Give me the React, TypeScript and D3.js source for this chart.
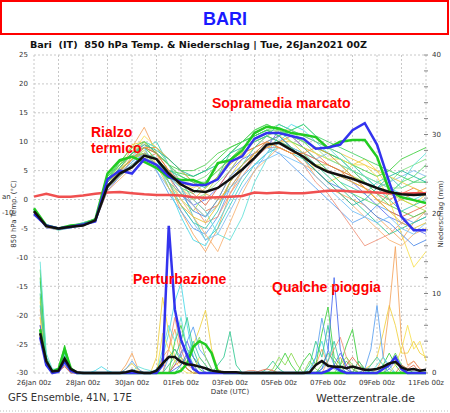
import React from 'react';
import * as d3 from 'd3';

// ---------- DATA ----------
const xTickLabels = ['26Jan 00z','28Jan 00z','30Jan 00z','01Feb 00z','03Feb 00z','05Feb 00z','07Feb 00z','09Feb 00z','11Feb 00z'];
const tempTicks = [25,20,15,10,5,0,-5,-10,-15,-20,-25,-30];
const precipLabels = [0,10,20,30,40];
const precipMinor = [0,2,4,6,8,10,12,14,16,18,20,22,24,26,28,30,32,34,36,38,40];

// temperature: every 12h from 26Jan 00z (0h) to 11Feb 00z (384h)
const tempHours = d3.range(0, 385, 12);
// precipitation: every 6h from 06h to 384h
const precipHours = d3.range(6, 385, 6);

const tMean = [-2,-4.6,-5,-4.7,-4.5,-3.6,2.3,4.5,5.6,7.6,7,4.5,2.6,1.5,1.3,2,3.5,5.2,7.2,9.5,9.8,8.6,7.4,5.8,4.8,4.2,3.6,2.8,2.0,1.3,0.9,0.8,0.9];
const tOper = [-2.5,-4.5,-5,-4.7,-4.3,-3.8,3.5,5,4.5,7,6,4,3,2.5,2.5,3.5,6.5,7.5,10.5,11.5,11.5,11,10.5,8.8,9,9.5,12,13.2,9.5,3,-3,-5.3,-5.3];
const tCtrl = [-1.5,-4.5,-5,-4.5,-4.3,-3.5,4.5,6.8,7.4,6.5,5.5,3.8,3.4,3.4,2.5,6.3,6.8,8.5,11.5,12.6,12.3,11.5,11.2,10.8,8.9,10,10.3,10.3,7.4,1.6,0.4,-0.1,-0.6];
const tClim = [0.5,1.0,0.5,0.5,0.7,1.0,1.2,1.3,1.1,0.9,0.8,0.8,0.7,0.4,0.3,0.4,0.5,0.6,1.2,1.1,1.2,1.1,1.1,1.3,1.5,1.5,1.4,1.3,1.2,1.1,1.0,1.1,1.1];

const t01 = [-2.2,-4.8,-5.2,-4.6,-4.4,-3.8,2,5,9,12.5,8,3,-2,-6,-9,-5,1,5,8,10,11,9,7,4,2,1,0,-1,-3,-5,-7,-4,-2];
const t02 = [-2,-4.4,-5,-4.8,-4,-3.4,3,6,9.5,10,6,4,1,-1,-3,0,4,7,9,11,10,10,8,5,3,4,6,7,5,2,0,-1,1];
const t03 = [-1.8,-4.6,-5.1,-4.5,-4.2,-3.6,4,6.5,7.5,8,7,5,4.5,4,5,7,9,10,12,13,12,11,10,9,8,7,6,5,4,5,7,8,9];
const t04 = [-2.3,-4.7,-5.3,-4.9,-4.4,-3.7,2.5,4.5,6.5,9,10,6,2,-3,-7,-5,-1,3,6,8,9,8,7,6,5,3,2,1,3,4,2,3,4];
const t05 = [-2,-4.5,-4.9,-4.6,-4.1,-3.5,3,5,7,9,5,1,-2,-5,-6,-3,2,5,7,9,8,6,4,2,0,-2,-4,-3,-1,-2,-3,-4,-3];
const t06 = [-2.1,-4.6,-5,-4.7,-4.3,-3.6,2,4,6,7,8,6,3,0,-2,-1,3,6,8,9,10,11,9,8,6,5,3,2,1,0,1,2,1];
const t07 = [-2,-4.3,-4.9,-4.5,-4,-3.3,3.5,6,8,10,9,7,5,3,4,6,8,10,11,12,13,12,10,8,7,6,4,3,2,3,5,6,7];
const t08 = [-2.2,-4.5,-5,-4.8,-4.3,-3.4,2.5,5,7,8.5,6,3,0,-2,1,4,7,9,10,11,10,9,7,6,6,5,4,3,2,1,0,-1,-2];
const t09 = [-1.7,-4.4,-5.1,-4.6,-4,-3.5,3,5.5,8,9,7,2,-3,-7,-8,-4,0,4,6,8,11,13,12,10,8,6,5,4,3,2,1,0,1];
const t10 = [-2.4,-4.9,-5.2,-4.9,-4.5,-3.8,1.5,4,6,8,7,4,1,-1,0,2,5,7,8,9,12,11,9,7,5,4,3,1,-1,-3,-4,-5,-6];
const t11 = [-2,-4.6,-5,-4.6,-4.2,-3.5,2,4.5,7.5,9.5,8,5,2,-1,-4,-3,1,4,7,9,9,8,6,3,1,-2,-5,-8,-7,-6,-4,-3,-2];
const t12 = [-2.1,-4.7,-5.2,-4.7,-4.3,-3.6,2.5,5,8,11,9,6,3,2,3,5,7,8,9,10,11,10,9,8,7,7,6,6,4,0,-6,-11.7,-9];
const t13 = [-1.9,-4.5,-5,-4.7,-4.2,-3.4,3,5,7,8,6,5,4,3,2,4,8,10,11,12,11,9,8,6,4,2,0,-2,-4,-6,-5,-4,-3];
const t14 = [-2.2,-4.6,-5.1,-4.8,-4.2,-3.5,2,4,6,7,5,2,-1,-4,-7,-6,-2,2,5,8,10,9,8,7,8,7,5,3,2,3,4,5,4];
const t15 = [-2,-4.4,-5,-4.6,-4.1,-3.3,4,6,8,9,8,6,5,5,6,8,9,10,11,12,12,11,10,9,8,7,5,3,1,-1,-2,-3,-2];
const t16 = [-2.3,-4.8,-5.2,-4.8,-4.4,-3.7,1.5,3.5,5.5,8,7,4,0,-3,-6,-9,-4,1,5,7,9,8,6,5,3,1,-1,-3,-5,-7,-8,-6,-5];
const t17 = [-1.8,-4.5,-5,-4.6,-4.1,-3.5,2.5,5,7,10,9,6,3,0,-2,-6,-7,-3,3,7,10,12,13,11,9,7,5,4,2,1,3,6,8];
const t18 = [-2,-4.6,-5.1,-4.7,-4.3,-3.6,2,4.5,6,8,6,3,1,-2,-3,0,4,6,8,10,11,9,7,5,3,2,1,-1,-3,-4,-6,-8,-7];
const t19 = [-2.1,-4.7,-5,-4.7,-4.2,-3.5,3,5.5,8,10,8,5,2,0,2,4,6,8,10,11,12,12,11,10,9,8,7,6,5,4,3,2,1];
const t20 = [-2,-4.5,-5.1,-4.6,-4.2,-3.4,3.5,6,8,9,7,4,2,1,3,6,8,10,12,13,12,10,9,7,5,3,1,0,-1,1,3,4,6];
const t21 = [-2.2,-4.6,-5,-4.8,-4.3,-3.6,2,4,7,9,8,5,3,1,-1,2,5,8,9,10,9,8,8,7,6,5,4,2,0,-2,-3,-2,-1];
const t22 = [-1.9,-4.5,-5,-4.6,-4.2,-3.5,2.5,5,7,8,7,3,-1,-4,-5,-2,3,6,9,11,13,12,11,10,9,8,6,4,2,0,-2,-1,0];
const t23 = [-2,-4.5,-5.2,-4.8,-4.3,-3.6,2,4,6,7.5,6,3,1,0,1,3,5,8,10,11,12,11,10,9,7,6,5,4,3,2,2,3,4];
const t24 = [-2.2,-4.7,-5,-4.6,-4.2,-3.5,3,5,7,9,9,7,5,3,1,0,2,5,8,10,9,8,8,9,8,6,4,2,0,-1,0,1,2];
const t25 = [-1.9,-4.5,-5,-4.7,-4.1,-3.4,2.5,4.5,6.5,8,6,4,2,-1,-3,-1,2,4,6,7,8,7,6,4,2,0,-2,-3,-4,-3,-5,-6,-4];
const t26 = [-2.1,-4.6,-5.1,-4.6,-4.2,-3.5,3.5,6.5,9,10,8,6,4,3,3,5,7,9,11,12,11,12,13,11,10,9,8,7,6,5,4,3,3];
const t27 = [-2,-4.5,-5,-4.7,-4.3,-3.6,2.5,5,7,8,6,2,-1,-3,-4,-1,3,6,8,9,10,9,7,6,5,4,3,2,0,-2,-4,-5,-4];
const t28 = [-2.2,-4.6,-5.1,-4.7,-4.2,-3.5,3,5.5,8,9.5,8.5,7,5,4,5,6,8,9,10,11,10,9,7,5,3,1,-1,0,2,4,5,4,3];

const tempMembers = [t01,t02,t03,t04,t05,t06,t07,t08,t09,t10,t11,t12,t13,t14,t15,t16,t17,t18,t19,t20,t21,t22,t23,t24,t25,t26,t27,t28];
const tempColors = ['#f5a35c','#f0d040','#3ccf3c','#40d0c0','#5aa0f0','#f07850','#7de07d','#b8d84a','#48d8e8','#6070f0','#f09078','#f8e050','#30c890','#80b8f0','#50d050','#f8b070','#60e0d8','#4a88e8','#f0c840','#58d868','#e86848','#38c8b0','#90e090','#f0a040','#70c0f8','#40d060','#e8c030','#20b8a0'];

const pMean = [5.0,1.5,0.2,0.3,1.8,0.5,0.1,0, 0,0,0,0,0,0,0.1,0.3, 0.1,0,0,0.3,1.2,2.0,2.0,1.4, 1.1,1.0,0.8,0.6,0.3,0.2,0.1,0.1, 0.1,0,0,0,0,0,0,0, 0,0,0,0,0.1,1.0,1.5,0.9, 0.8,0.8,0.6,0.8,0.6,0.4,0.4,0.5, 0.8,1.2,1.4,0.7,0.4,0.5,0.3,0.4];
const pOper = [4.5,1.0,0,0.2,1.5,0.3,0,0, 0,0,0,0,0,0,0,0, 0,0,0,0,1.0,18.5,8.0,4.2, 2.2,0.5,0,0,0,0,0,0, 0,0,0,0,0,0,0,0, 0,0,0,0,0,0,0,0.3, 0.8,0.3,0,0,0,0,0,0, 0.5,1.0,2.0,0.5,0,0,0,0];
const pCtrl = [5.5,1.2,0.2,0.5,3.0,0.6,0,0, 0,0,0,0,0,0,0,0, 0,0,0,0,0,0,0,0.3, 1.2,3.3,4.0,3.6,2.5,0.2,0,0, 0,0,0,0,0,0,0,0, 0,0,0,0,0,0,0,0, 0,0,0,0,0,0,0,0, 0,0,0,0,0,0,0,0];

const p01 = [11.5,2,0.3,0.5,2.2,0.4,0,0, 0,0.3,0.8,0.3,0,0,0,0, 0,0,0,0.5,2,5,9,11.3, 6,2,1,0.5,0,0,0,0, 0,0,0,0,0,0,0,0, 0,0,0,0,0.5,2,4,1, 0.5,0,0,0,0,0,0,0, 0,0,0,0,0,0,0,0];
const p02 = [9,1.5,0,0.2,1.5,0.2,0,0, 0,0,0,0,0,0,0.5,1.2, 0.3,0,0,2,9.5,5,2,1, 2,3.5,5.5,7.9,3,0.5,0,0, 0,0,0,0,0,0,0,0, 0,0,0,0,0,0,0,0, 0,0,0,0,0,0.5,1,2, 5,8.5,6,2.5,2.5,4,2.5,2];
const p03 = [8,1,0,0.3,2,0.3,0,0, 0,0,0,0,0,0,1,2.5, 0.5,0,0,0,2,3,5.5,2, 0.5,0,0,0,0,0,0,0, 0,0,0,0,0,0,0,0, 0,0,0,0,0,1,3,1, 0.5,2,0.5,0,1.5,0.5,0,0.5, 2,8,15.9,4,1,1.5,0.5,0.3];
const p04 = [12,1.5,0.3,0.6,3.5,0.5,0,0, 0,0,0,0,0,0,0,0, 0,0,0,0,0,0,4,6, 3,2,0.5,0,0,0,0,0, 0,0,0,0,0,0,0,1, 2.5,1,0,1.5,2.5,1,5,8.3, 2,1,3.5,5.5,1,0.5,0,0, 1,2.5,1,0,0,0,0,0];
const p05 = [6,1,0,0.2,1,0,0,0, 0,0,0,0,0,0,0.5,1.5, 0.5,0,0,0,0,2,3,2, 4,5.8,3,2,0.5,0,0,0, 0,0,0,0,0,0,0,0, 0,0,0,0,0,2,6.9,3, 1,0.5,0,0,0,0.5,3,8.5, 2,0.5,0,0,0,0,0,0];
const p06 = [10,1.5,0,0.4,2.5,0.3,0,0, 0,0,0,0,0,0,0,0, 0,0,0,0,0,1,2,4, 7,3,1,0.5,0,1,2,5.2, 1,0,0,0,0,0.5,1.5,0.5, 0,0,0,0,1,4,2,6, 1,0,0,0,1.5,0.5,0,0, 0,0,0,0,0,0,0,0];
const p07 = [7,1,0,0.2,1,0.2,0,0, 0,0,0,0,0,0,0,0, 0,0,0,0,0,3,7,3, 1,0.5,0,0,0,0,0,0, 0,0,0.3,0.3,0,0,0,0, 0,0,0,0,0,0,0,1.5, 3,4.5,2,0.5,0,0,0,0, 0,0,0,0,0.8,1.5,0.5,0.3];
const p08 = [9.5,1.2,0.1,0.3,1.8,0.3,0,0, 0,0,0,0,0,0,0,0, 0,0,0,0,0,0,1.5,2, 1,3,4.5,2,0.5,0,0,0, 0,0,0,0,0,0,0.5,2, 1,2.5,1,0,1.5,0.5,0,0, 0,1,2,1,0,0,0,0, 0,0,0,0,0,0,0,0];
const p09 = [5,1,0,0,1.2,0.2,0,0, 0,0,0,0,0,0,0,0, 0,0,0,0,0,0,1,2.5, 4,2,1,0,0,0,0,0, 0,0,0,0,0,0,0,0, 0,0,0,0,0,0,0,0, 1,2.5,1,0,0,0,0,0, 0,0.5,1.5,1,0,0,0,0];
const p10 = [13,2,0.3,0.5,3,0.5,0,0, 0,0,0,0,0,0,0,0, 0,0,0,0,1,2,3,1.5, 0.5,0,0,0,0,0,0,0, 0,0,0,0,0,0,0,0, 0,0,0,0,0,0,1,2.5, 1.5,0.5,1.5,0.5,0,0,0,0, 0,1,2.5,1,0.5,0,0,0];
const p11 = [6,1,0,0.2,0.8,0,0,0, 0,0,0,0,0,0,0,0, 0,0,0,0,0,0,1,1.5, 0.5,0,0,0,0,0,0,0, 0,0,0,0,0.3,0.5,0.3,0, 0,0,0,0,0,0,0,0, 0,0,1,2,1,0,0,0, 0,0,0,1,0.5,1,0,0];
const p12 = [14,2.5,0.5,0.5,2.5,0.5,0,0, 0,0,0,0,0,0,0,0.2, 0.8,0.5,0.3,0,3,6,4,7, 3,1,0,0,0,0,0,0, 0,0,0,0,0,0,0,0, 0,0,0,0,0,0,0,0, 0,0,0,0,0,0,0,1, 2,1,0,0,0,0,0,0];
const p13 = [7,1,0,0.2,1.5,0.2,0,0, 0,0,0,0,0,0,0,0, 0,0,0,0,5,3,1.5,0.5, 0,0,2,1,0,0,0,0, 0,0,0,0,0,0,0,0, 0,0,0,0,0,0,0,0, 0,0,0,0,0,0,0,0, 0,0,1,3,6,3,4,1.5];
const p14 = [8.5,1.5,0,0.3,2,0.3,0,0, 0,0,0,0,0,0,0,0, 0,0,0,0,0,0,0,1, 2,4,2,1,0,0,0,0, 0,0,0,0,0,0,0,0, 0,0,0,0,0,0,0.5,1.5, 4,1,0,0,0,0,1,2, 1,0,0,0,0,0,0,0];
const p15 = [6,1,0,0.2,1.2,0.2,0,0, 0,0,0,0,0,0,0,0, 0,0,0,0,0,0,0.5,1, 2.5,1,0,0,0,0,0,0, 0,0,0,0,0,0,0,0, 0,0,0,0,0,0,0.5,2.8, 12,3,0.5,0,0,0,0,0, 0,0,0,0,0,0,0,0];

const precipMembers = [p01,p02,p03,p04,p05,p06,p07,p08,p09,p10,p11,p12,p13,p14,p15];
const precipColors = ['#48d8e8','#f0d040','#f5a35c','#3ccf3c','#5aa0f0','#30c890','#f09078','#8ad850','#6070f0','#50d050','#e86848','#60e0d8','#f8e050','#38c8b0','#4466ee'];

// ---------- LAYOUT ----------
const W = 450, H = 413;
const L = 34, R = 426, T = 55, B = 373;

export default function App() {
  const x = d3.scaleLinear().domain([0, 384]).range([L, R]);
  const yT = d3.scaleLinear().domain([-30, 25]).range([B, T]);
  const yP = d3.scaleLinear().domain([0, 40]).range([B, T]);

  const lineT = (vals: number[]) =>
    d3.line<number>().x((_, i) => x(tempHours[i])).y(d => yT(d))(vals) || '';
  const lineP = (vals: number[]) =>
    d3.line<number>().x((_, i) => x(precipHours[i])).y(d => yP(d))(vals) || '';

  const dayLines = d3.range(0, 385, 24);
  const grid = '#c8c8c8';
  const sans = 'DejaVu Sans, Verdana, sans-serif';
  const arial = 'Liberation Sans, Arial, sans-serif';

  return (
    <svg width={W} height={H} style={{ position: 'absolute', left: 0, top: 0, background: '#fff' }}
      xmlns="http://www.w3.org/2000/svg">
      <rect x={0} y={0} width={W} height={H} fill="#fff" />
      {/* title box */}
      <rect x={1} y={1} width={447} height={33} fill="#fff" stroke="#ff0000" strokeWidth={2} />
      <text x={225} y={25} textAnchor="middle" fontFamily={arial} fontWeight="bold" fontSize={18} fill="#1a1aff">BARI</text>
      {/* subtitle */}
      <text x={30} y={48} fontFamily={sans} fontWeight="bold" fontSize={9.5} fill="#111"
        textLength={337} lengthAdjust="spacingAndGlyphs" style={{ whiteSpace: 'pre' }}>
        {'Bari  (IT)  850 hPa Temp. & Niederschlag | Tue, 26Jan2021 00Z'}
      </text>

      {/* grid */}
      {dayLines.map(h => (
        <line key={'v' + h} x1={x(h)} x2={x(h)} y1={T} y2={B} stroke={grid} strokeWidth={1} strokeDasharray="2,2" />
      ))}
      {tempTicks.map(t => (
        <line key={'h' + t} x1={L} x2={R} y1={yT(t)} y2={yT(t)} stroke={grid} strokeWidth={1} strokeDasharray="2,2" />
      ))}

      {/* left axis labels */}
      {tempTicks.map(t => (
        <text key={'lt' + t} x={28} y={yT(t)} dy="0.35em" textAnchor="end" fontFamily={sans} fontSize={7} fill="#333">{t}</text>
      ))}
      {/* right axis */}
      {precipMinor.map(p => (
        <line key={'rm' + p} x1={R - 2} x2={R + 2} y1={yP(p)} y2={yP(p)} stroke="#888" strokeWidth={1} />
      ))}
      {precipLabels.map(p => (
        <text key={'rl' + p} x={R + 6} y={yP(p)} dy="0.35em" fontFamily={sans} fontSize={7} fill="#333">{p}</text>
      ))}
      {/* x labels */}
      {xTickLabels.map((lab, i) => (
        <text key={'xl' + i} x={x(i * 48)} y={385} textAnchor="middle" fontFamily={sans} fontSize={7} fill="#333">{lab}</text>
      ))}
      <text x={x(192)} y={394} textAnchor="middle" fontFamily={sans} fontSize={7} fill="#333">Date (UTC)</text>

      {/* axis titles */}
      <text transform={`translate(16,214) rotate(-90)`} textAnchor="middle" fontFamily={sans} fontSize={7} fill="#333">850 hPa Temp. (°C)</text>
      <text transform={`translate(443,214) rotate(-90)`} textAnchor="middle" fontFamily={sans} fontSize={7} fill="#333">Niederschlag (mm)</text>
      <text x={2} y={199} fontFamily={sans} fontSize={7} fill="#333">an</text>
      <text x={2} y={215} fontFamily={sans} fontSize={7} fill="#333">-10</text>

      {/* members */}
      {tempMembers.map((m, i) => (
        <path key={'tm' + i} d={lineT(m)} fill="none" stroke={tempColors[i]} strokeWidth={1} strokeOpacity={0.85} />
      ))}
      {precipMembers.map((m, i) => (
        <path key={'pm' + i} d={lineP(m)} fill="none" stroke={precipColors[i]} strokeWidth={1} strokeOpacity={0.85} />
      ))}

      {/* special lines */}
      <path d={lineT(tClim)} fill="none" stroke="#f05050" strokeWidth={2.5} />
      <path d={lineT(tCtrl)} fill="none" stroke="#22cc22" strokeWidth={2.5} />
      <path d={lineT(tOper)} fill="none" stroke="#3333ee" strokeWidth={2.5} />
      <path d={lineT(tMean)} fill="none" stroke="#111" strokeWidth={2.5} />
      <path d={lineP(pCtrl)} fill="none" stroke="#22cc22" strokeWidth={2.5} />
      <path d={lineP(pOper)} fill="none" stroke="#3333ee" strokeWidth={2.5} />
      <path d={lineP(pMean)} fill="none" stroke="#111" strokeWidth={2.5} />

      {/* annotations */}
      <text x={91} y={137} fontFamily={arial} fontWeight="bold" fontSize={14} fill="#ff0000">Rialzo</text>
      <text x={91} y={153} fontFamily={arial} fontWeight="bold" fontSize={14} fill="#ff0000">termico</text>
      <text x={212} y={108} fontFamily={arial} fontWeight="bold" fontSize={14} fill="#ff0000">Sopramedia marcato</text>
      <text x={133} y={284} fontFamily={arial} fontWeight="bold" fontSize={14} fill="#ff0000">Perturbazione</text>
      <text x={272} y={292} fontFamily={arial} fontWeight="bold" fontSize={14} fill="#ff0000">Qualche pioggia</text>

      {/* footer */}
      <text x={8} y={401} fontFamily={sans} fontSize={10} fill="#333">GFS Ensemble, 41N, 17E</text>
      <text x={415} y={402} textAnchor="end" fontFamily={sans} fontSize={11} fill="#333">Wetterzentrale.de</text>
      <line x1={0} x2={W} y1={411} y2={411} stroke="#bbb" strokeWidth={1} strokeDasharray="1,2" />
    </svg>
  );
}
